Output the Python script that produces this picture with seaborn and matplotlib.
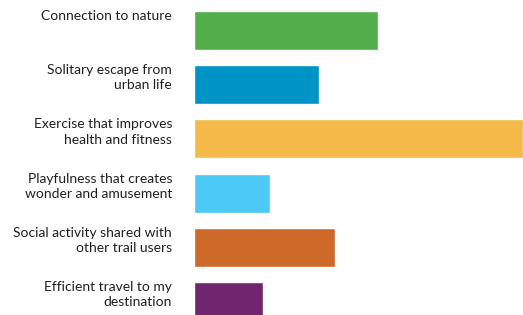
import matplotlib
matplotlib.use('Agg')
import matplotlib.pyplot as plt
import numpy as np
import pandas as pd
import seaborn as sns

# Data
categories = [
    'Connection to nature',
    'Solitary escape from\nurban life',
    'Exercise that improves\nhealth and fitness',
    'Playfulness that creates\nwonder and amusement',
    'Social activity shared with\nother trail users',
    'Efficient travel to my\ndestination',
]
values = [56, 38, 100, 23, 43, 21]
colors = ['#52AE4A', '#0093C6', '#F5B94A', '#4DC9F5', '#CD6A29', '#71256E']

df = pd.DataFrame({'category': categories, 'value': values})

sns.set_style('white')
plt.rcParams['font.family'] = ['Lato', 'DejaVu Sans']

fig = plt.figure(figsize=(5.23, 3.15), dpi=100)
ax = fig.add_axes([194 / 523, 0, 1 - 194 / 523, 1])

sns.barplot(data=df, x='value', y='category', hue='category', palette=colors,
            legend=False, width=0.72, saturation=1, ax=ax, orient='h')

ax.set_xlim(0, 100)
ax.set_ylim(5.249, -0.563)
ax.set_xlabel('')
ax.set_ylabel('')
ax.set_xticks([])

# labels sit level with the top edge of each bar
ax.set_yticks(np.arange(len(categories)) - 0.38, labels=categories)
ax.tick_params(axis='y', length=0, pad=15.8, labelsize=10, labelcolor='#231F20')
for lbl in ax.get_yticklabels():
    lbl.set_horizontalalignment('right')
    lbl.set_multialignment('right')
    lbl.set_verticalalignment('top')
    lbl.set_linespacing(1.32)
sns.despine(ax=ax, left=True, bottom=True)

fig.savefig('out.png', dpi=100)
